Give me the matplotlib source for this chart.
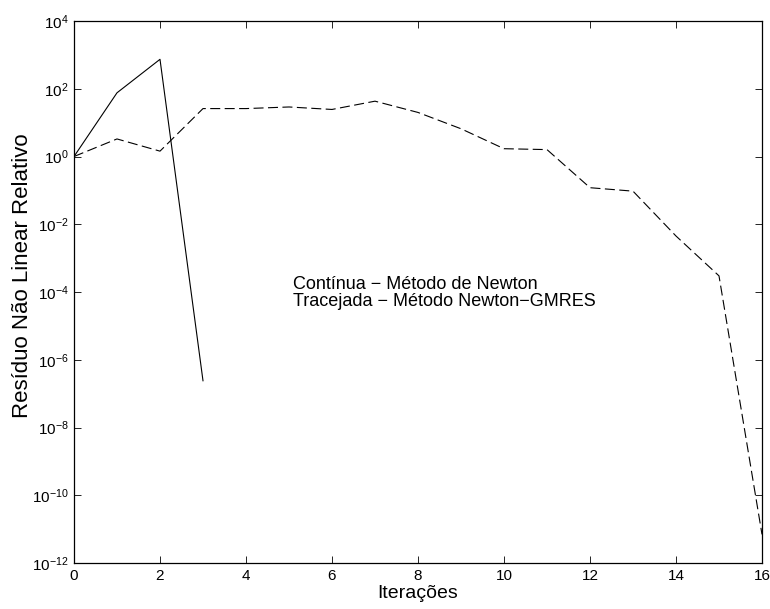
import matplotlib
matplotlib.use("Agg")
import matplotlib.pyplot as plt
import matplotlib.ticker as mticker

# iterações e resíduos
iter_newton = [0, 1, 2, 3]
res_newton = [1.0, 76.0, 740.0, 2.4e-7]

iter_gmres = [0, 1, 2, 3, 4, 5, 6, 7, 8, 9, 10, 11, 12, 13, 14, 15, 16]
res_gmres = [1.0, 3.3, 1.44, 26.0, 26.0, 29.0, 24.5, 43.0, 20.0, 6.6,
             1.7, 1.6, 0.12, 0.095, 4.5e-3, 3.0e-4, 7.0e-12]

ytick_exps = [-12, -10, -8, -6, -4, -2, 0, 2, 4]
xticks = [0, 2, 4, 6, 8, 10, 12, 14, 16]

plt.rcParams["font.family"] = ["Liberation Sans", "DejaVu Sans"]
plt.rcParams["mathtext.default"] = "regular"
plt.rcParams["mathtext.fontset"] = "custom"
plt.rcParams["mathtext.rm"] = "Liberation Sans"

fig = plt.figure(figsize=(7.7, 6.09), dpi=100)
ax = fig.add_axes([0.0961, 0.0755, 0.8935, 0.89])

ax.plot(iter_newton, res_newton, color="black", linewidth=0.8)
ax.plot(iter_gmres, res_gmres, color="black", linewidth=0.8,
        linestyle=(0, (9, 4)))

ax.set_yscale("log")
ax.set_xlim(0, 16)
ax.set_ylim(1e-12, 1e4)
ax.set_xticks(xticks)
ax.set_yticks([10.0 ** e for e in ytick_exps])
ax.set_yticklabels([r"$10^{%d}$" % e for e in ytick_exps])
ax.yaxis.set_minor_locator(mticker.NullLocator())

ax.tick_params(direction="in", top=True, right=True, length=5,
               width=0.6, labelsize=11, pad=4)
for s in ax.spines.values():
    s.set_linewidth(0.9)

ax.set_xlabel("Iterações", fontsize=14, labelpad=2)
ax.set_ylabel("Resíduo Não Linear Relativo", fontsize=16)
ax.yaxis.set_label_coords(-0.06, 0.53)

# legenda em texto, como no original
ax.text(0.318, 0.506, "Contínua \u2212 Método de Newton",
        fontsize=13, va="baseline", ha="left", transform=ax.transAxes)
ax.text(0.318, 0.4735, "Tracejada \u2212 Método Newton\u2212GMRES",
        fontsize=13, va="baseline", ha="left", transform=ax.transAxes)

fig.savefig("out.png", dpi=100)
